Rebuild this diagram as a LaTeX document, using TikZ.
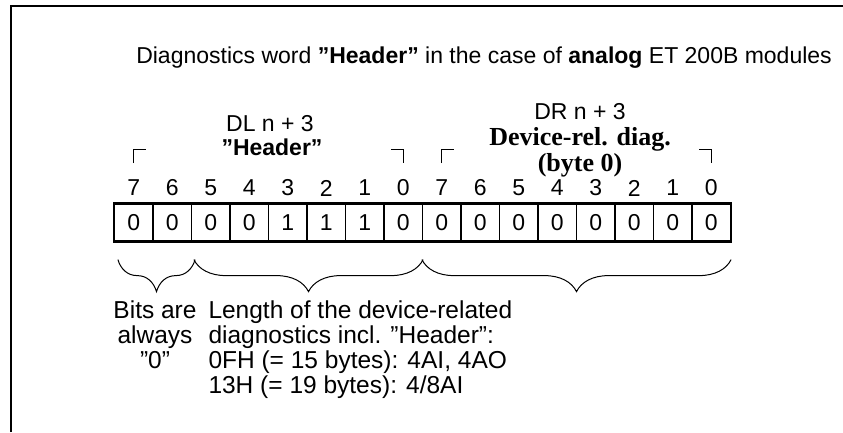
\documentclass[tikz,border=0pt]{standalone}
\usepackage{fontspec}
\setmainfont{Liberation Sans}
\newfontfamily\timesbf{Liberation Serif}
\usetikzlibrary{decorations.pathreplacing}

\begin{document}
\begin{tikzpicture}[x=1pt, y=-1pt, line width=1pt,
  lbl/.style={font=\fontsize{23}{26}\selectfont, inner sep=0pt},
  note/.style={font=\fontsize{24.5}{25}\selectfont, inner sep=0pt},
  serif/.style={font=\fontsize{26}{28}\selectfont\timesbf\bfseries, inner sep=0pt},
  bitcell/.style={draw, line width=1.2pt, minimum width=38.5pt, minimum height=37pt, inner sep=0pt, font=\fontsize{23}{26}\selectfont},
  corner/.style={line width=1pt},
  ubrace/.style={decorate, decoration={brace, mirror, amplitude=32pt}, line width=1pt}]
  \useasboundingbox (0,0) rectangle (843,432);
  % frame
  \draw[line width=1.5pt] (11,432) -- (11,6) -- (843,6);
  \node[lbl] (title) at (484,58) {Diagnostics word \textbf{”Header”} in the case of \textbf{analog} ET 200B modules};
  % register DL / DR
  \foreach \i/\b/\v in {1/7/0, 2/6/0, 3/5/0, 4/4/0, 5/3/1, 6/2/1, 7/1/1, 8/0/0,
                        9/7/0, 10/6/0, 11/5/0, 12/4/0, 13/3/0, 14/2/0, 15/1/0, 16/0/0} {
    \node[bitcell] (c\i) at ({114.5+38.5*(\i-0.5)},222.5) {\v};
    \node[lbl] (n\i) at ({114.5+38.5*(\i-0.5)},188) {\b};
  }
  \draw[line width=2pt] (c1.north west) rectangle (c16.south east);
  \node[lbl] (dlname) at (270,124) {DL n + 3};
  \node[lbl] (dlhead) at (272,147) {\textbf{”Header”}};
  \node[lbl] (drname) at (580,112) {DR n + 3};
  \node[serif] (drdiag) at (580,139) {Device-rel. diag.};
  \node[serif] (drbyte) at (580,165) {(byte 0)};
  \draw[corner] ([yshift=25pt]n1.center) -- ([yshift=39pt]n1.center) -- ([xshift=12pt, yshift=39pt]n1.center);
  \draw[corner] ([xshift=-12pt, yshift=39pt]n8.center) -- ([yshift=39pt]n8.center) -- ([yshift=25pt]n8.center);
  \draw[corner] ([yshift=25pt]n9.center) -- ([yshift=39pt]n9.center) -- ([xshift=12pt, yshift=39pt]n9.center);
  \draw[corner] ([xshift=-12pt, yshift=39pt]n16.center) -- ([yshift=39pt]n16.center) -- ([yshift=25pt]n16.center);
  % braces
  \draw[ubrace] ([xshift=4pt, yshift=-18pt]c1.south west) -- ([xshift=3pt, yshift=-18pt]c2.south east);
  \draw[ubrace] ([xshift=3pt, yshift=-18pt]c3.south west) -- ([yshift=-18pt]c8.south east);
  \draw[ubrace] ([yshift=-18pt]c9.south west) -- ([yshift=-18pt]c16.south east);
  \node[note, align=center, anchor=north] (always) at (155,300) {Bits are\\always\\”0”};
  \node[note, align=left, anchor=north west] (length) at (208,300) {Length of the device-related\\diagnostics incl. ”Header”:\\0FH (= 15 bytes): 4AI, 4AO\\13H (= 19 bytes): 4/8AI};
\end{tikzpicture}
\end{document}
